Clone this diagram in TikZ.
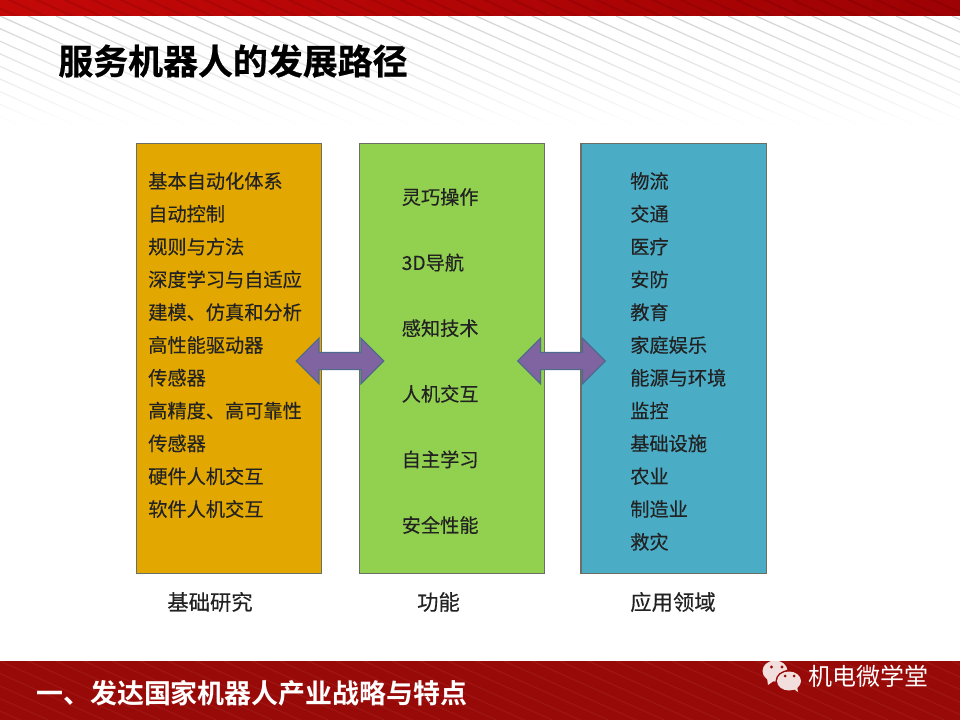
\documentclass[tikz,border=0pt]{standalone}
\usepackage{fontspec}
\setmainfont{Noto Sans CJK SC}[FakeBold=0.25]
\newfontfamily\cjkbold{Noto Sans CJK SC Bold}[FakeBold=0.6]
\newfontfamily\cjkfoot{Noto Sans CJK SC Bold}
\newfontfamily\cjkbrand{Noto Sans CJK SC}
\usetikzlibrary{shapes.arrows,fadings}
\tikzfading[name=fadetowhite,top color=transparent!100,bottom color=transparent!0]
\definecolor{barred}{HTML}{C40808}
\definecolor{bardarkright}{HTML}{9E0204}
\definecolor{bardark}{HTML}{980A08}
\definecolor{boxline}{HTML}{6A6F66}
\definecolor{orangebox}{HTML}{E2A700}
\definecolor{greenbox}{HTML}{92D050}
\definecolor{bluebox}{HTML}{4BACC6}
\definecolor{arrowfill}{HTML}{8064A2}
\definecolor{arrowline}{HTML}{4F6A8C}
\definecolor{bodytext}{HTML}{222222}
\definecolor{iconfill}{HTML}{F2DEDC}
\tikzset{
  panel/.style={draw=boxline,line width=1pt,minimum width=139pt,minimum height=322.5pt,inner sep=0pt},
  itemtext/.style={font=\fontsize{14.4}{16}\selectfont,text=bodytext,inner sep=0pt},
  leftitem/.style={itemtext,anchor=west},
  captiontext/.style={font=\fontsize{16}{18}\selectfont,text=bodytext,inner sep=0pt},
  midarrow/.style={double arrow,double arrow head extend=10.5pt,double arrow tip angle=90,
     minimum height=65.5pt,minimum width=33pt,inner xsep=0pt,inner ysep=6pt,
     fill=arrowfill,draw=arrowline,line width=0.9pt},
  stripe/.style={line width=0.95pt},
}
\begin{document}
\begin{tikzpicture}[x=0.75pt,y=-0.75pt]
\useasboundingbox (0,0) rectangle (960,720);
\fill[white] (0,0) rectangle (960,720);
% header stripes
\begin{scope}
\clip (0,16) rectangle (960,125);
\foreach \k in {-20,...,40}
  \draw[stripe,draw=black!17] (\k*28,16) -- ++(300,135);
\fill[white,path fading=fadetowhite] (0,16) rectangle (960,125);
\end{scope}
% top bar
\shade[left color=barred,right color=bardarkright] (0,0) rectangle (960,16);
\begin{scope}
\clip (0,0) rectangle (960,16);
\foreach \k in {-3,...,40}
  \draw[line width=1.4pt,draw=black,opacity=.09] (\k*28,-4) -- ++(60,27);
\end{scope}
% bottom bar
\fill[bardark] (0,661) rectangle (960,720);
\begin{scope}
\clip (0,661) rectangle (960,720);
\foreach \k in {-6,...,40}
  \draw[line width=0.9pt,draw=white,opacity=.05] (\k*28,661) -- ++(150,67);
\end{scope}
% title and footer
\node[anchor=west,inner sep=0pt,font=\cjkbold\fontsize{26.2}{30}\selectfont,text=black] (title) at (58,61) {服务机器人的发展路径};
\node[anchor=west,inner sep=0pt,font=\cjkfoot\fontsize{20.2}{24}\selectfont,text=white] (footer) at (36,693) {一、发达国家机器人产业战略与特点};
\node[anchor=west,inner sep=0pt,font=\cjkbrand\fontsize{18}{20}\selectfont,text=white] (brand) at (808,676) {机电微学堂};
% wechat icon
\begin{scope}
\clip (760,661) rectangle (806,700);
\fill[iconfill] (775,671) ellipse [x radius=12.5,y radius=10.5];
\fill[iconfill] (767,678) -- (768,685) -- (775,680) -- cycle;
\fill[bardark] (789,681) ellipse [x radius=13.5,y radius=11];
\fill[iconfill] (789,681) ellipse [x radius=12,y radius=9.5];
\fill[iconfill] (792,688) -- (798,692) -- (797,686) -- cycle;
\fill[bardark] (771.5,667) circle (1.6) (782,667) circle (1.6) (785,676) circle (1.5) (794,676) circle (1.5);
\end{scope}
% panels
\node[panel,fill=orangebox] (research) at (229,358.5) {};
\node[panel,fill=greenbox] (functions) at (452,358.5) {};
\node[panel,fill=bluebox] (fields) at (673.5,358.5) {};
% left items
\foreach \t [count=\i from 0] in {基本自动化体系,自动控制,规则与方法,深度学习与自适应,建模、仿真和分析,高性能驱动器,传感器,高精度、高可靠性,传感器,硬件人机交互,软件人机交互}
  \node[leftitem] (l\i) at (148,181+\i*32.8) {\t};
% middle items
\foreach \t [count=\i from 0] in {灵巧操作,3D导航,感知技术,人机交互,自主学习,安全性能}
  \node[leftitem] (m\i) at (401.5,197+\i*65.6) {\t};
% right items
\foreach \t [count=\i from 0] in {物流,交通,医疗,安防,教育,家庭娱乐,能源与环境,监控,基础设施,农业,制造业,救灾}
  \node[leftitem] (r\i) at (630,181+\i*32.8) {\t};
% captions
\node[captiontext] (cap1) at (210,602) {基础研究};
\node[captiontext] (cap2) at (438.5,602) {功能};
\node[captiontext] (cap3) at (673,602) {应用领域};
% double arrows
\node[midarrow] (a1) at (340,361) {};
\node[midarrow] (a2) at (561.5,361) {};
\end{tikzpicture}
\end{document}
